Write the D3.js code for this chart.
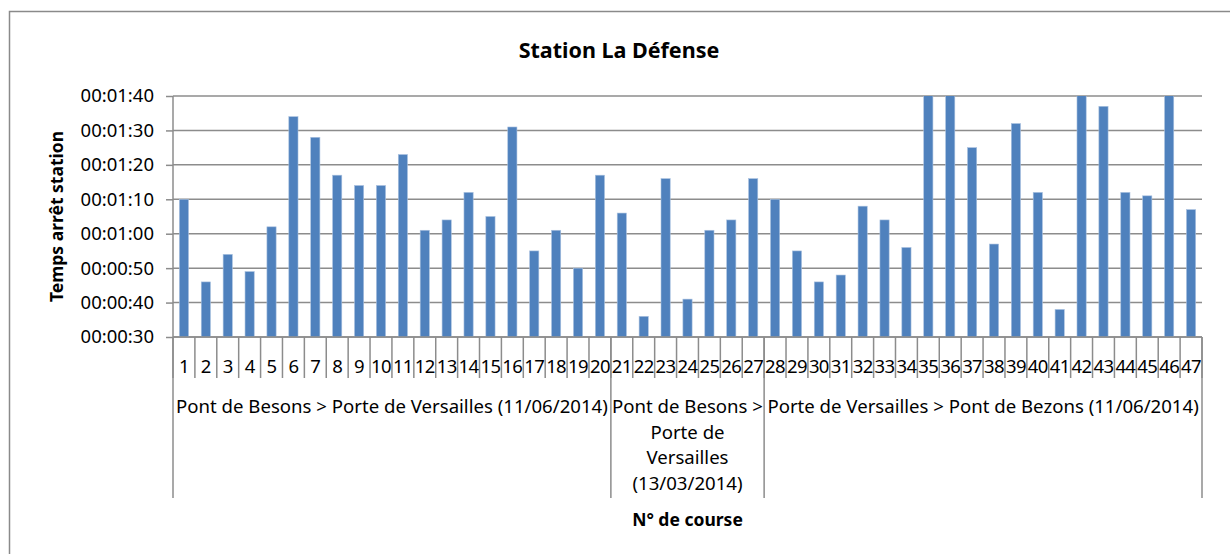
<!DOCTYPE html>
<html>
<head>
<meta charset="utf-8">
<script src="https://cdn.jsdelivr.net/npm/d3@7"></script>
<style>
  body { margin: 0; background: #fff; }
  text { font-family: "Noto Sans", sans-serif; fill: #000; }
</style>
</head>
<body>
<div id="chart"></div>
<script>
const width = 1230;
const height = 554;

// N° de course
const courses = d3.range(1, 48).map(String);

// Temps arrêt station, in seconds (bars above 100 s are cut by the axis)
const stopSeconds = [
  70, 46, 54, 49, 62, 94, 88, 77, 74, 74,
  83, 61, 64, 72, 65, 91, 55, 61, 50, 77,
  66, 36, 76, 41, 61, 64, 76,
  70, 55, 46, 48, 68, 64, 56, 104, 104, 85,
  57, 92, 72, 38, 104, 97, 72, 71, 104, 67
];

// groups of courses on the second axis row
const groupLabels = [
  ["Pont de Besons > Porte de Versailles (11/06/2014)"],
  ["Pont de Besons >", "Porte de", "Versailles", "(13/03/2014)"],
  ["Porte de Versailles > Pont de Bezons (11/06/2014)"]
];
const groupFirst = [1, 21, 28];
const groupLast = [20, 27, 47];

const yTicks = [30, 40, 50, 60, 70, 80, 90, 100];

const margin = {left: 173, right: 28, top: 96, bottom: 217};
const plotRight = width - margin.right;
const plotBottom = height - margin.bottom;

const svg = d3.select("#chart").append("svg")
  .attr("width", width)
  .attr("height", height);

// chart frame
svg.append("rect")
  .attr("x", 9.5).attr("y", 11.5)
  .attr("width", 1240).attr("height", 560)
  .attr("fill", "none")
  .attr("stroke", "#8a8a8a")
  .attr("stroke-width", 1.5);

const x = d3.scaleBand()
  .domain(courses)
  .range([margin.left, plotRight])
  .paddingInner(0.58)
  .paddingOuter(0.29);

const y = d3.scaleLinear()
  .domain([30, 100])
  .range([plotBottom, margin.top]);

function fmt(s) {
  const m = Math.floor(s / 60), r = s % 60;
  return "00:" + String(m).padStart(2, "0") + ":" + String(r).padStart(2, "0");
}

// gridlines + y axis
const yAxis = d3.axisLeft(y)
  .tickValues(yTicks)
  .tickFormat(fmt)
  .tickSize(7)
  .tickPadding(12);

svg.append("g")
  .attr("class", "grid")
  .selectAll("line")
  .data(yTicks)
  .join("line")
  .attr("x1", margin.left).attr("x2", plotRight)
  .attr("y1", d => y(d)).attr("y2", d => y(d))
  .attr("stroke", "#8c8c8c")
  .attr("stroke-width", 1.5);

const gy = svg.append("g")
  .attr("transform", `translate(${margin.left},0)`)
  .call(yAxis);
gy.select(".domain").remove();
gy.append("line")
  .attr("y1", margin.top).attr("y2", plotBottom)
  .attr("stroke", "#8c8c8c").attr("stroke-width", 1.5);
gy.selectAll(".tick line").attr("stroke", "#8c8c8c").attr("stroke-width", 1.5);
gy.selectAll(".tick text")
  .style("font-size", "18.5px")
  .style("font-family", "Noto Sans, sans-serif")
  .attr("fill", "#000");

// bars, clipped at the top of the plot
svg.append("clipPath").attr("id", "plotclip")
  .append("rect")
  .attr("x", margin.left).attr("y", margin.top)
  .attr("width", plotRight - margin.left)
  .attr("height", plotBottom - margin.top);

svg.append("g")
  .attr("clip-path", "url(#plotclip)")
  .selectAll("rect")
  .data(stopSeconds)
  .join("rect")
  .attr("x", (d, i) => x(courses[i]))
  .attr("y", d => y(d))
  .attr("width", x.bandwidth())
  .attr("height", d => plotBottom - y(d))
  .attr("fill", "#4f81bd")
  .attr("stroke", "#a9c1df")
  .attr("stroke-width", 0.6);

// category axis: first row (course numbers)
const step = x.step();
const edge = i => margin.left + i * step;

svg.append("line")
  .attr("x1", margin.left).attr("x2", plotRight)
  .attr("y1", plotBottom).attr("y2", plotBottom)
  .attr("stroke", "#8c8c8c").attr("stroke-width", 1.5);

svg.append("g")
  .selectAll("line")
  .data(d3.range(courses.length + 1))
  .join("line")
  .attr("x1", edge).attr("x2", edge)
  .attr("y1", plotBottom).attr("y2", plotBottom + 41)
  .attr("stroke", "#8c8c8c").attr("stroke-width", 1.5);

svg.append("g")
  .selectAll("text")
  .data(courses)
  .join("text")
  .attr("x", d => x(d) + x.bandwidth() / 2)
  .attr("y", plotBottom + 36)
  .attr("text-anchor", "middle")
  .style("font-size", "18.5px")
  .style("letter-spacing", "-0.6px")
  .text(d => d);

// second row (groups)
const groupEdges = [0].concat(groupLast);
svg.append("g")
  .selectAll("line")
  .data(groupEdges)
  .join("line")
  .attr("x1", d => edge(d)).attr("x2", d => edge(d))
  .attr("y1", plotBottom).attr("y2", 498)
  .attr("stroke", "#8c8c8c").attr("stroke-width", 1.5);

groupLabels.forEach((lines, g) => {
  const cx = (edge(groupFirst[g] - 1) + edge(groupLast[g])) / 2;
  const t = svg.append("text")
    .attr("x", cx)
    .attr("y", 413)
    .attr("text-anchor", "middle")
    .style("font-size", "18.6px");
  lines.forEach((ln, k) => {
    t.append("tspan").attr("x", cx).attr("dy", k === 0 ? 0 : 25.5).text(ln);
  });
});

// titles
svg.append("text")
  .attr("x", 619).attr("y", 58)
  .attr("text-anchor", "middle")
  .style("font-size", "21.5px")
  .style("font-weight", "bold")
  .text("Station La Défense");

svg.append("text")
  .attr("transform", `translate(63,${(margin.top + plotBottom) / 2}) rotate(-90)`)
  .attr("text-anchor", "middle")
  .style("font-size", "17.5px")
  .style("font-weight", "bold")
  .text("Temps arrêt station");

svg.append("text")
  .attr("x", (margin.left + plotRight) / 2).attr("y", 526)
  .attr("text-anchor", "middle")
  .style("font-size", "17.5px")
  .style("font-weight", "bold")
  .text("N° de course");
</script>
</body>
</html>
